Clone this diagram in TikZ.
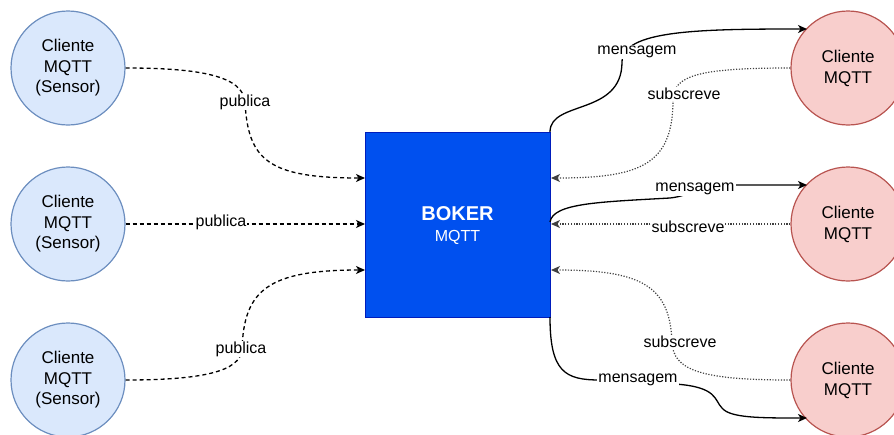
\documentclass[tikz,border=0pt]{standalone}
\usepackage{fontspec}
\setmainfont{Liberation Sans}
\usetikzlibrary{arrows.meta}
\definecolor{bluefill}{HTML}{DAE8FC}
\definecolor{bluestroke}{HTML}{6C8EBF}
\definecolor{redfill}{HTML}{F8CECC}
\definecolor{redstroke}{HTML}{B85450}
\definecolor{brokerfill}{HTML}{0050EF}
\definecolor{brokerstroke}{HTML}{001DBC}
\tikzset{
  sensor/.style={circle,draw=bluestroke,fill=bluefill,line width=1.2pt,minimum size=114pt,inner sep=0pt,align=center,font=\fontsize{17}{20.5}\selectfont},
  client/.style={circle,draw=redstroke,fill=redfill,line width=1.2pt,minimum size=114pt,inner sep=0pt,align=center,font=\fontsize{17}{21}\selectfont},
  broker/.style={rectangle,draw=brokerstroke,fill=brokerfill,line width=1pt,minimum width=185pt,minimum height=185pt,inner sep=0pt},
  lbl/.style={fill=white,inner sep=1pt,font=\fontsize{16}{18}\selectfont},
  arr/.style={-{Stealth[length=9pt,width=8pt,inset=2.5pt]},line width=1.3pt},
  pub/.style={arr,dash pattern=on 4pt off 3pt},
  msg/.style={arr},
  sub/.style={arr,dash pattern=on 1.2pt off 1.6pt,line width=1.2pt,black!75},
}
\begin{document}
\begin{tikzpicture}[x=1pt,y=-1pt]
\useasboundingbox (0,0) rectangle (894,434);
% nodes
\node[sensor] (s1) at (68,68) {Cliente\\MQTT\\(Sensor)};
\node[sensor] (s2) at (68,224) {Cliente\\MQTT\\(Sensor)};
\node[sensor] (s3) at (68,380) {Cliente\\MQTT\\(Sensor)};
\node[client] (c1) at (848,68) {Cliente\\MQTT};
\node[client] (c2) at (848,224) {Cliente\\MQTT};
\node[client] (c3) at (848,380) {Cliente\\MQTT};
\node[broker] (b) at (457.5,224.5) {};
\node[text=white,font=\bfseries\fontsize{20}{22}\selectfont] (bt) at (457.5,214) {BOKER};
\node[text=white,font=\fontsize{16}{18}\selectfont] (bt2) at (457.5,237) {MQTT};
% anchor coordinates on the broker
\coordinate (bl1) at (365,178);
\coordinate (bl2) at (365,224);
\coordinate (bl3) at (365,270);
\coordinate (br0) at (550,132);
\coordinate (br1) at (551,178);
\coordinate (brm) at (550,222);
\coordinate (br2) at (551,224);
\coordinate (br3) at (551,270);
\coordinate (br4) at (550,317);
\coordinate (c1m) at (807,29);
\coordinate (c2m) at (807,185);
\coordinate (c3m) at (807,418);
% publica
\draw[pub] (s1.east) .. controls (200,68) and (243,76) .. (245,102)
   .. controls (248,160) and (268,178) .. (bl1);
\node[lbl] (p1) at (245,102) {publica};
\draw[pub] (s2.east) -- (bl2);
\node[lbl] (p2) at (221,222) {publica};
\draw[pub] (s3.east) .. controls (200,380) and (241,372) .. (242,349)
   .. controls (244,290) and (268,270) .. (bl3);
\node[lbl] (p3) at (241,349) {publica};
% mensagem
\draw[msg] (br0) .. controls (550,100) and (622,116) .. (622,62)
   .. controls (622,30) and (700,29) .. (c1m);
\node[lbl] (m1) at (637,52) {mensagem};
\draw[msg] (brm) .. controls (553,203) and (600,202) .. (670,198)
   .. controls (690,196) and (700,185) .. (740,185) -- (c2m);
\node[lbl] (m2) at (695,189) {mensagem};
\draw[msg] (br4) .. controls (550,372) and (565,380) .. (600,380) -- (675,384)
   .. controls (718,387) and (714,400) .. (722,408)
   .. controls (730,418) and (760,418) .. (c3m);
\node[lbl] (m3) at (638,380) {mensagem};
% subscreve
\draw[sub] (c1.west) .. controls (700,68) and (673,75) .. (673,100)
   .. controls (673,165) and (640,178) .. (br1);
\node[lbl] (u1) at (684,94) {subscreve};
\draw[sub] (c2.west) -- (br2);
\node[lbl] (u2) at (688,227) {subscreve};
\draw[sub] (c3.west) .. controls (700,380) and (673,370) .. (672,342)
   .. controls (670,285) and (640,270) .. (br3);
\node[lbl] (u3) at (680,342) {subscreve};
\end{tikzpicture}
\end{document}
